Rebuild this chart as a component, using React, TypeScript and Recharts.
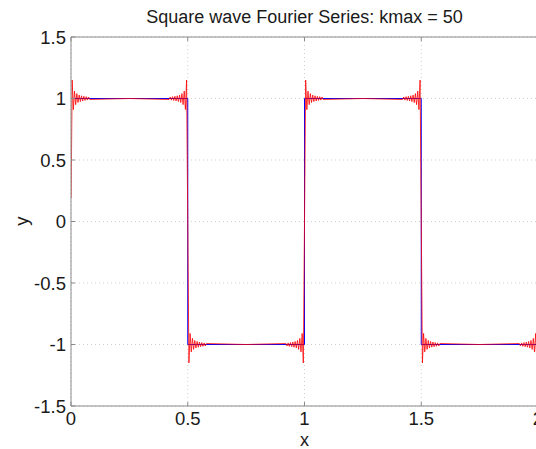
import React from "react";
import { LineChart, Line, XAxis, YAxis, CartesianGrid, ReferenceLine } from "recharts";

const xTicks = [0, 0.5, 1, 1.5, 2];
const yTicks = [-1.5, -1, -0.5, 0, 0.5, 1, 1.5];

// ideal square wave (blue)
const squareX = [0, 0.5, 0.5, 1, 1, 1.5, 1.5, 2];
const squareY = [1, 1, -1, -1, 1, 1, -1, -1];

// Fourier partial sum (red), read around each jump
const riseAt0 = [
  [0.0005, 0.19], [0.005, 1.15], [0.01, 0.91], [0.015, 1.06], [0.02, 0.95], [0.025, 1.04],
  [0.03, 0.967], [0.035, 1.028], [0.04, 0.975], [0.045, 1.022], [0.05, 0.98], [0.055, 1.018],
  [0.06, 0.984], [0.065, 1.015], [0.07, 0.987], [0.075, 1.012], [0.08, 0.992], [0.25, 1.0],
];
const fallAt05 = [
  [0.42, 0.992], [0.425, 1.012], [0.43, 0.987], [0.435, 1.015], [0.44, 0.984], [0.445, 1.018],
  [0.45, 0.98], [0.455, 1.022], [0.46, 0.975], [0.465, 1.028], [0.47, 0.967], [0.475, 1.04],
  [0.48, 0.95], [0.485, 1.06], [0.49, 0.91], [0.495, 1.15], [0.5, 0],
  [0.505, -1.15], [0.51, -0.91], [0.515, -1.06], [0.52, -0.95], [0.525, -1.04], [0.53, -0.967],
  [0.535, -1.028], [0.54, -0.975], [0.545, -1.022], [0.55, -0.98], [0.555, -1.018], [0.56, -0.984],
  [0.565, -1.015], [0.57, -0.987], [0.575, -1.012], [0.58, -0.992], [0.75, -1.0],
];
const riseAt1 = [
  [0.92, -0.992], [0.925, -1.012], [0.93, -0.987], [0.935, -1.015], [0.94, -0.984], [0.945, -1.018],
  [0.95, -0.98], [0.955, -1.022], [0.96, -0.975], [0.965, -1.028], [0.97, -0.967], [0.975, -1.04],
  [0.98, -0.95], [0.985, -1.06], [0.99, -0.91], [0.995, -1.15], [1.0, 0],
  [1.005, 1.15], [1.01, 0.91], [1.015, 1.06], [1.02, 0.95], [1.025, 1.04], [1.03, 0.967],
  [1.035, 1.028], [1.04, 0.975], [1.045, 1.022], [1.05, 0.98], [1.055, 1.018], [1.06, 0.984],
  [1.065, 1.015], [1.07, 0.987], [1.075, 1.012], [1.08, 0.992], [1.25, 1.0],
];
const fallAt15 = [
  [1.42, 0.992], [1.425, 1.012], [1.43, 0.987], [1.435, 1.015], [1.44, 0.984], [1.445, 1.018],
  [1.45, 0.98], [1.455, 1.022], [1.46, 0.975], [1.465, 1.028], [1.47, 0.967], [1.475, 1.04],
  [1.48, 0.95], [1.485, 1.06], [1.49, 0.91], [1.495, 1.15], [1.5, 0],
  [1.505, -1.15], [1.51, -0.91], [1.515, -1.06], [1.52, -0.95], [1.525, -1.04], [1.53, -0.967],
  [1.535, -1.028], [1.54, -0.975], [1.545, -1.022], [1.55, -0.98], [1.555, -1.018], [1.56, -0.984],
  [1.565, -1.015], [1.57, -0.987], [1.575, -1.012], [1.58, -0.992], [1.75, -1.0],
];
const endAt2 = [
  [1.92, -0.992], [1.925, -1.012], [1.93, -0.987], [1.935, -1.015], [1.94, -0.984], [1.945, -1.018],
  [1.95, -0.98], [1.955, -1.022], [1.96, -0.975], [1.965, -1.028], [1.97, -0.967], [1.975, -1.04],
  [1.98, -0.95], [1.985, -1.06], [1.99, -0.91], [1.995, -1.15], [1.9995, -0.19],
];

const squareData = squareX.map((x, i) => ({ x, y: squareY[i] }));
const fourierData = [...riseAt0, ...fallAt05, ...riseAt1, ...fallAt15, ...endAt2].map(([x, y]) => ({ x, y }));

const FONT = "'Liberation Sans', Arial, sans-serif";
const AXIS = "#8a8a8a";

const XTick = (props: any) => {
  const { x, payload } = props;
  return (
    <g>
      <line x1={x} x2={x} y1={406} y2={402} stroke={AXIS} />
      <line x1={x} x2={x} y1={37} y2={41} stroke={AXIS} />
      <text x={x} y={425} textAnchor="middle" fontFamily={FONT} fontSize={18.5} fill="#1a1a1a">
        {payload.value}
      </text>
    </g>
  );
};

const YTick = (props: any) => {
  const { y, payload } = props;
  return (
    <g>
      <line x1={71} x2={75} y1={y} y2={y} stroke={AXIS} />
      <text x={66} y={y} dy="0.36em" textAnchor="end" fontFamily={FONT} fontSize={18.5} fill="#1a1a1a">
        {payload.value}
      </text>
    </g>
  );
};

export default function App() {
  return (
    <div style={{ position: "relative", width: 536, height: 449, overflow: "hidden", background: "#fff" }}>
      <style>{"body{margin:0}"}</style>
      <LineChart width={540} height={449} margin={{ top: 37, right: 2, bottom: 0, left: 0 }}>
        <CartesianGrid stroke="#cfcfcf" strokeDasharray="1 3" />
        <XAxis
          dataKey="x"
          type="number"
          domain={[0, 2]}
          ticks={xTicks}
          height={43}
          allowDataOverflow
          axisLine={{ stroke: AXIS }}
          tickLine={false}
          tick={<XTick />}
          interval={0}
        />
        <YAxis
          type="number"
          domain={[-1.5, 1.5]}
          ticks={yTicks}
          width={71}
          allowDataOverflow
          axisLine={{ stroke: AXIS }}
          tickLine={false}
          tick={<YTick />}
          interval={0}
        />
        <ReferenceLine y={1.5} stroke={AXIS} ifOverflow="visible" />
        <ReferenceLine x={2} stroke={AXIS} ifOverflow="visible" />
        <Line data={squareData} dataKey="y" stroke="#0000ff" strokeWidth={1} dot={false} isAnimationActive={false} />
        <Line data={fourierData} dataKey="y" stroke="#ff0000" strokeWidth={0.8} dot={false} isAnimationActive={false} />
      </LineChart>
      <svg width={536} height={449} style={{ position: "absolute", left: 0, top: 0, pointerEvents: "none" }}>
        <text x={304.5} y={23} textAnchor="middle" fontFamily={FONT} fontSize={18} fill="#1a1a1a">
          Square wave Fourier Series: kmax = 50
        </text>
        <text x={304.5} y={446} textAnchor="middle" fontFamily={FONT} fontSize={18} fill="#1a1a1a">
          x
        </text>
        <text x={28} y={221} textAnchor="middle" fontFamily={FONT} fontSize={18.5} fill="#1a1a1a" transform="rotate(-90 28 221)">
          y
        </text>
      </svg>
    </div>
  );
}
